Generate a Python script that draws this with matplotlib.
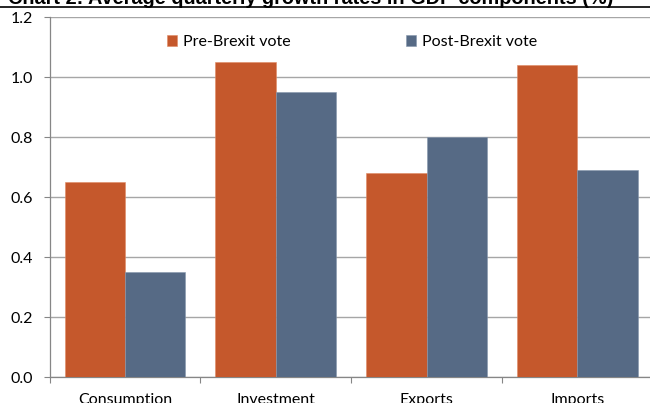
import numpy as np
import matplotlib.pyplot as plt
from matplotlib.lines import Line2D

# ----- Data -----
categories = ["Consumption", "Investment", "Exports", "Imports"]
pre_vote = [0.65, 1.05, 0.68, 1.04]
post_vote = [0.35, 0.95, 0.80, 0.69]
series_names = ["Pre-Brexit vote", "Post-Brexit vote"]
y_ticks = [0.0, 0.2, 0.4, 0.6, 0.8, 1.0, 1.2]

ORANGE = "#C5582C"
BLUE = "#566A85"
GRID = "#a6a6a6"
AXIS = "#868686"

plt.rcParams["font.family"] = ["Lato", "DejaVu Sans"]

W, H = 650, 403
fig = plt.figure(figsize=(W / 100, H / 100), dpi=100)

# plot area (right edge runs slightly past the figure, as in the source)
ax = fig.add_axes([49.5 / W, 25.7 / H, 603.3 / W, 360 / H])

x = np.arange(len(categories))
bw = 0.4
ax.bar(x - bw / 2, pre_vote, bw, color=ORANGE, edgecolor="#e08a64",
       linewidth=0.4, label=series_names[0], zorder=3)
ax.bar(x + bw / 2, post_vote, bw, color=BLUE, edgecolor="#8596ad",
       linewidth=0.4, label=series_names[1], zorder=3)

ax.set_xlim(-0.5, len(categories) - 0.5)
ax.set_ylim(0, 1.2)
ax.set_yticks(y_ticks)
ax.set_yticklabels([f"{v:.1f}" for v in y_ticks], fontsize=11.5)
ax.yaxis.grid(True, color=GRID, linewidth=1.0, zorder=0)
ax.set_axisbelow(True)

ax.set_xticks(x)
ax.set_xticklabels(categories, fontsize=11.5)
ax.set_xticks(np.arange(-0.5, len(categories), 1.0), minor=True)
ax.tick_params(axis="x", which="major", length=0, pad=11.5)
ax.tick_params(axis="x", which="minor", length=4, color=AXIS, width=0.8)
ax.tick_params(axis="y", length=4.3, color=AXIS, width=0.8, pad=7.5)

for s in ["top", "right"]:
    ax.spines[s].set_visible(False)
for s in ["left", "bottom"]:
    ax.spines[s].set_color(AXIS)
    ax.spines[s].set_linewidth(0.9)

fig.legend(loc="center left", bbox_to_anchor=(167 / W, 1 - 42 / H),
           ncol=2, frameon=False, fontsize=11.5, borderpad=0,
           borderaxespad=0, handlelength=0.65, handleheight=0.65,
           handletextpad=0.35, columnspacing=7.2)

# clipped title and rule above the chart
fig.text(8 / W, 1 - 4.0 / H,
         "Chart 2: Average quarterly growth rates in GDP components (%)",
         fontsize=14.3, fontweight="bold", family="Liberation Sans",
         ha="left", va="baseline")
fig.add_artist(Line2D([0, 1], [1 - 7 / H, 1 - 7 / H], color="black",
                      linewidth=1.2, transform=fig.transFigure))

fig.savefig("out.png", dpi=100)
